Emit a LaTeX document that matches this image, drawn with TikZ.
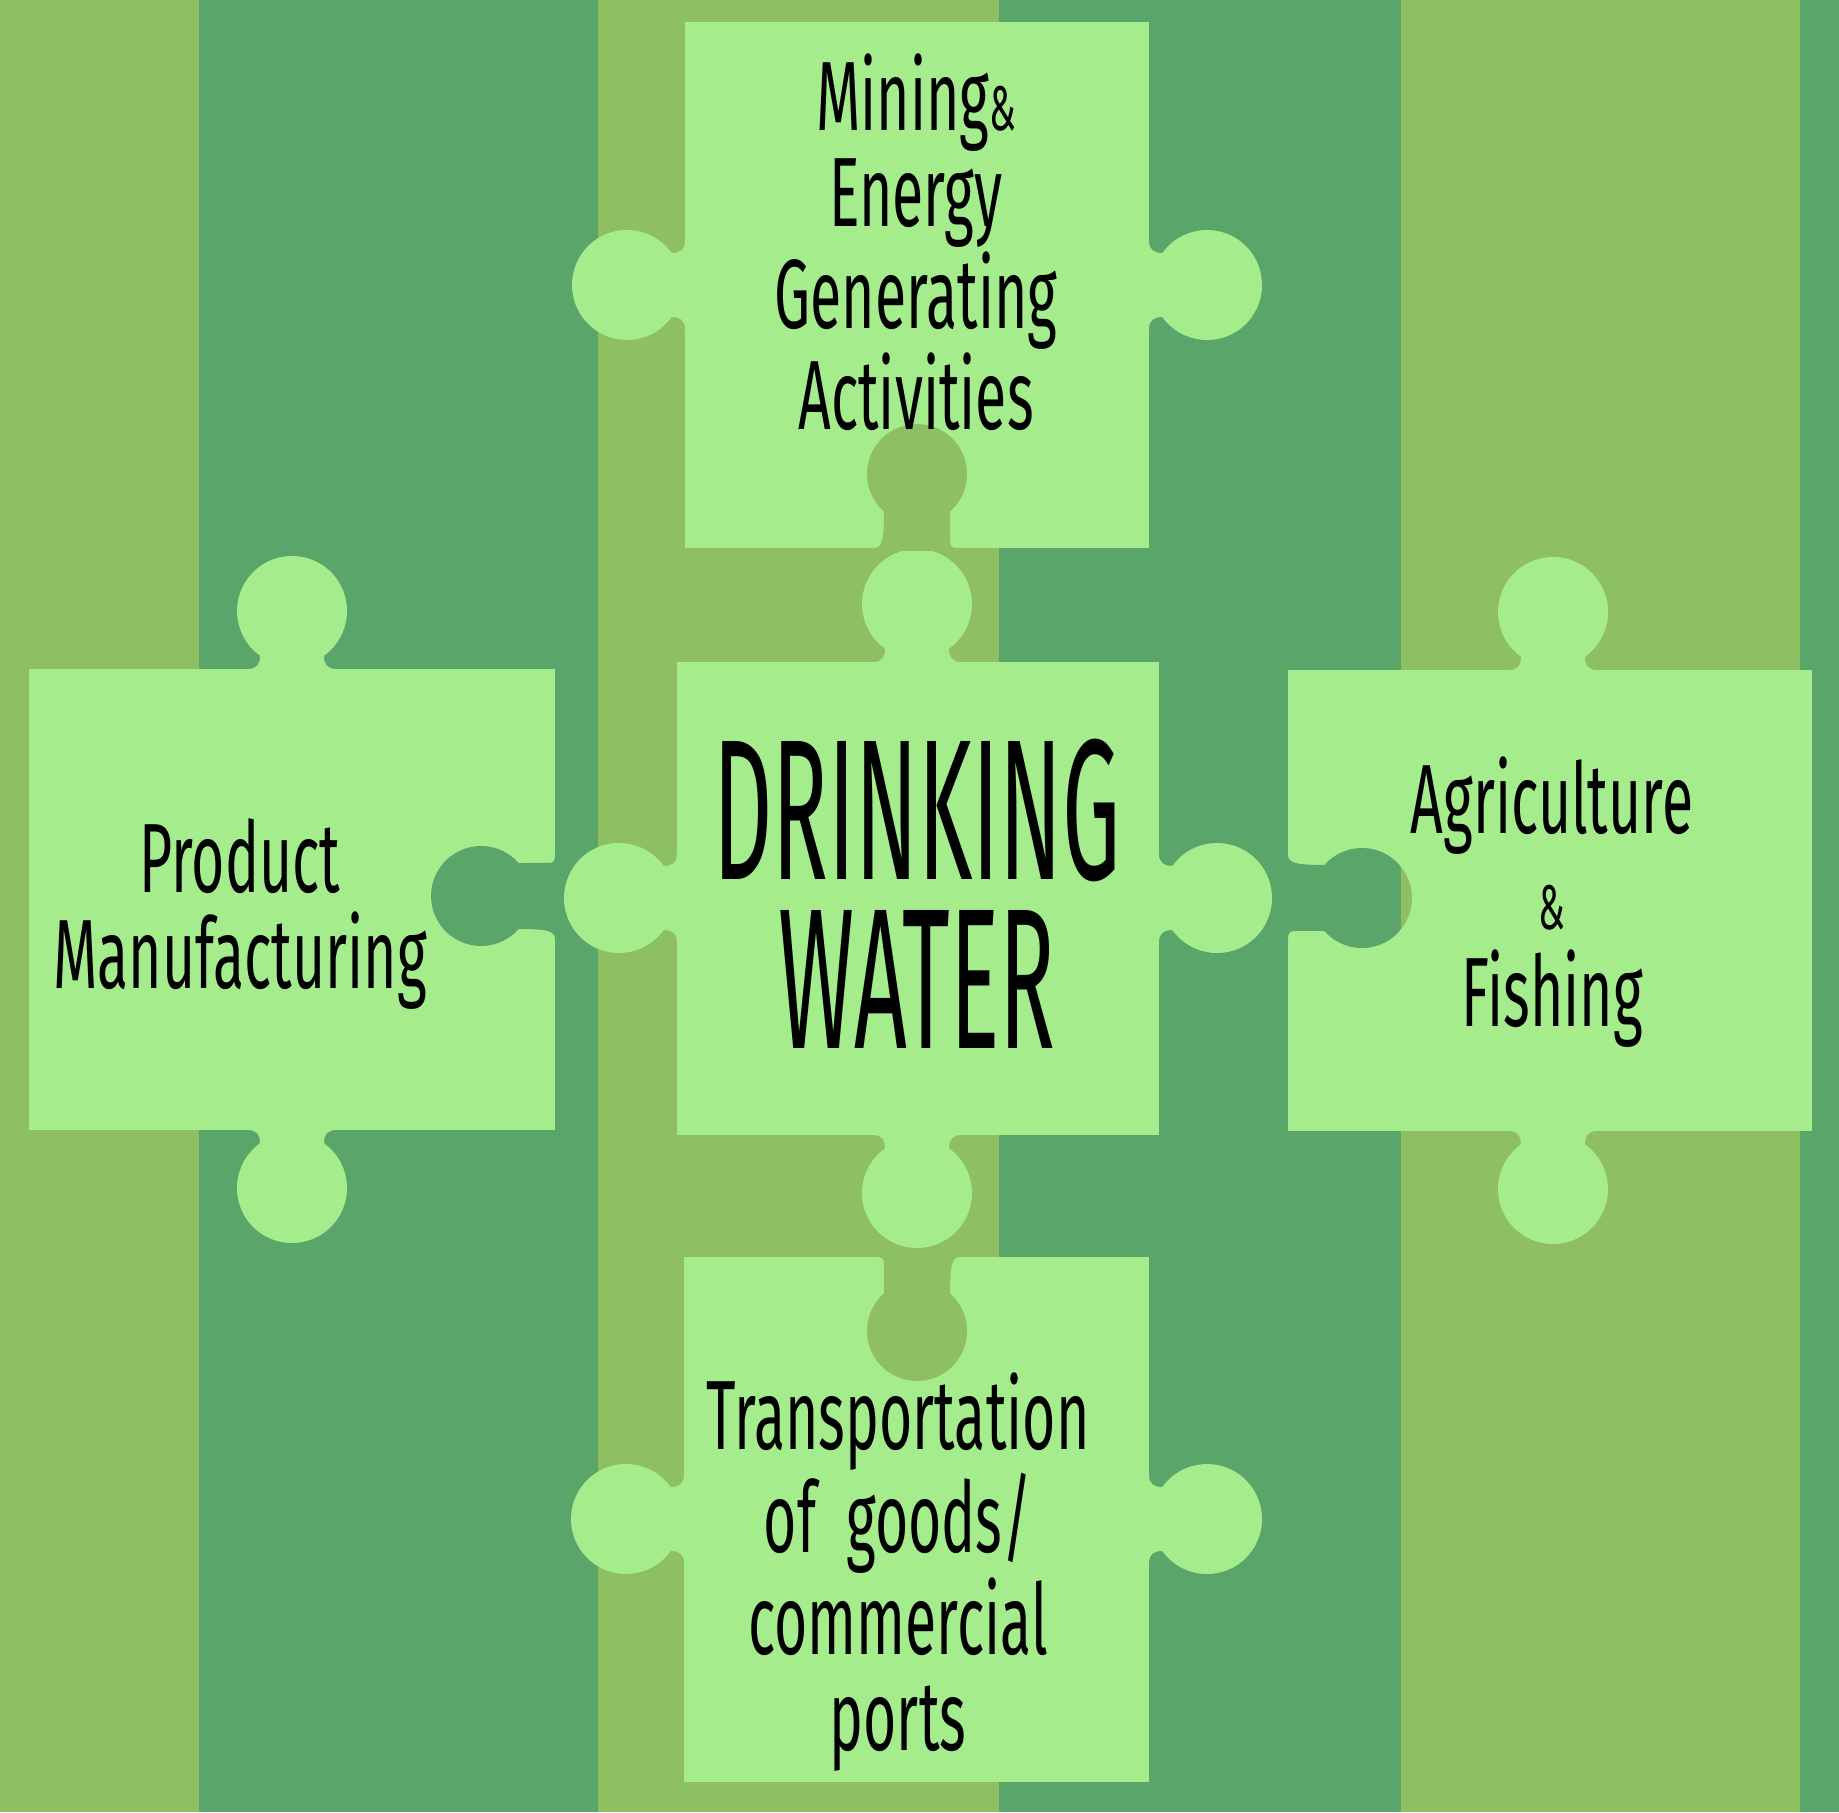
\documentclass[tikz,border=0pt]{standalone}
\usepackage{xcolor}
\usepackage{tikz}
\usepackage{fontspec}
\newfontfamily\handfont{Fira Sans}[FakeStretch=0.58]
\newfontfamily\handcaps{Fira Sans}[FakeStretch=0.46]
\definecolor{stripelight}{HTML}{8FBF63}
\definecolor{stripedark}{HTML}{5AA56A}
\definecolor{piecegreen}{HTML}{A4EC8C}
\newcommand{\bgstripes}{%
	\fill[stripelight] (0,0) rectangle (1.99,18.12);
	\fill[stripedark] (1.99,0) rectangle (5.98,18.12);
	\fill[stripelight] (5.98,0) rectangle (9.99,18.12);
	\fill[stripedark] (9.99,0) rectangle (14.01,18.12);
	\fill[stripelight] (14.01,0) rectangle (18.00,18.12);
	\fill[stripedark] (18.00,0) rectangle (18.39,18.12);
}
\newcommand{\smallamp}{{\fontsize{18}{18}\selectfont\&}}
\tikzset{
	puzzletab/.pic={
		\fill[piecegreen] (-0.44,-0.03) -- (-0.44,0) .. controls (-0.35,0) and (-0.32,0.05) .. (-0.32,0.133)
			arc[start angle=234.4, end angle=-54.4, radius=0.55]
			.. controls (0.32,0.05) and (0.35,0) .. (0.44,0) -- (0.44,-0.03) -- cycle;
	},
	puzzlehole/.pic={
		\begin{scope}
			\clip (-0.43,-0.03) -- (-0.43,0) .. controls (-0.35,0) and (-0.33,0.08) .. (-0.33,0.364)
				arc[start angle=228.7, end angle=-48.7, radius=0.50]
				-- (0.33,0.08) .. controls (0.33,0) and (0.35,0) .. (0.43,0) -- (0.43,-0.03) -- cycle;
			\begin{scope}[reset cm]
				\bgstripes
			\end{scope}
		\end{scope}
	},
	handtext/.style={black, font=\handfont\fontsize{28}{27.5}\selectfont, align=center, inner sep=0pt},
	bigtext/.style={black, font=\handcaps\fontsize{57}{48}\selectfont, align=center, inner sep=0pt}
}

\begin{document}
\begin{tikzpicture}
			\useasboundingbox (0,0) rectangle (18.39,18.12);
			\bgstripes
			\fill[piecegreen] (6.85,12.64) rectangle (11.49,17.90);
			\pic[rotate=90] at (6.85,15.27) {puzzletab};
			\pic[rotate=-90] at (11.49,15.27) {puzzletab};
			\fill[piecegreen] (6.77,6.77) rectangle (11.59,11.50);
			\pic at (9.17,11.50) {puzzletab};
			\pic[rotate=180] at (9.17,6.77) {puzzletab};
			\pic[rotate=90] at (6.77,9.14) {puzzletab};
			\pic[rotate=-90] at (11.59,9.14) {puzzletab};
			\fill[piecegreen] (0.29,6.82) rectangle (5.55,11.43);
			\pic at (2.92,11.43) {puzzletab};
			\pic[rotate=180] at (2.92,6.82) {puzzletab};
			\fill[piecegreen] (12.88,6.81) rectangle (18.12,11.42);
			\pic at (15.53,11.42) {puzzletab};
			\pic[rotate=180] at (15.53,6.81) {puzzletab};
			\fill[piecegreen] (6.84,0.30) rectangle (11.49,5.55);
			\pic[rotate=90] at (6.84,2.93) {puzzletab};
			\pic[rotate=-90] at (11.49,2.93) {puzzletab};
			\pic at (9.17,12.64) {puzzlehole};
			\pic[rotate=90] at (5.55,9.16) {puzzlehole};
			\pic[rotate=-90] at (12.88,9.14) {puzzlehole};
			\pic[rotate=180] at (9.17,5.55) {puzzlehole};
			\node[handtext] (mining) at (9.16,15.70) {Mining\smallamp\\Energy\\Generating\\Activities};
			\node[handtext] (product) at (2.40,8.98) {Product\\Manufacturing};
			\node[handtext] (agriculture) at (15.52,9.10) {Agriculture\\\smallamp\\Fishing};
			\node[bigtext] (drinking) at (9.17,9.18) {DRINKING\\WATER};
			\node[handtext] (transport) at (8.98,2.40) {Transportation\\of\ \ goods/\\commercial\\ports};
		\end{tikzpicture}
\end{document}
